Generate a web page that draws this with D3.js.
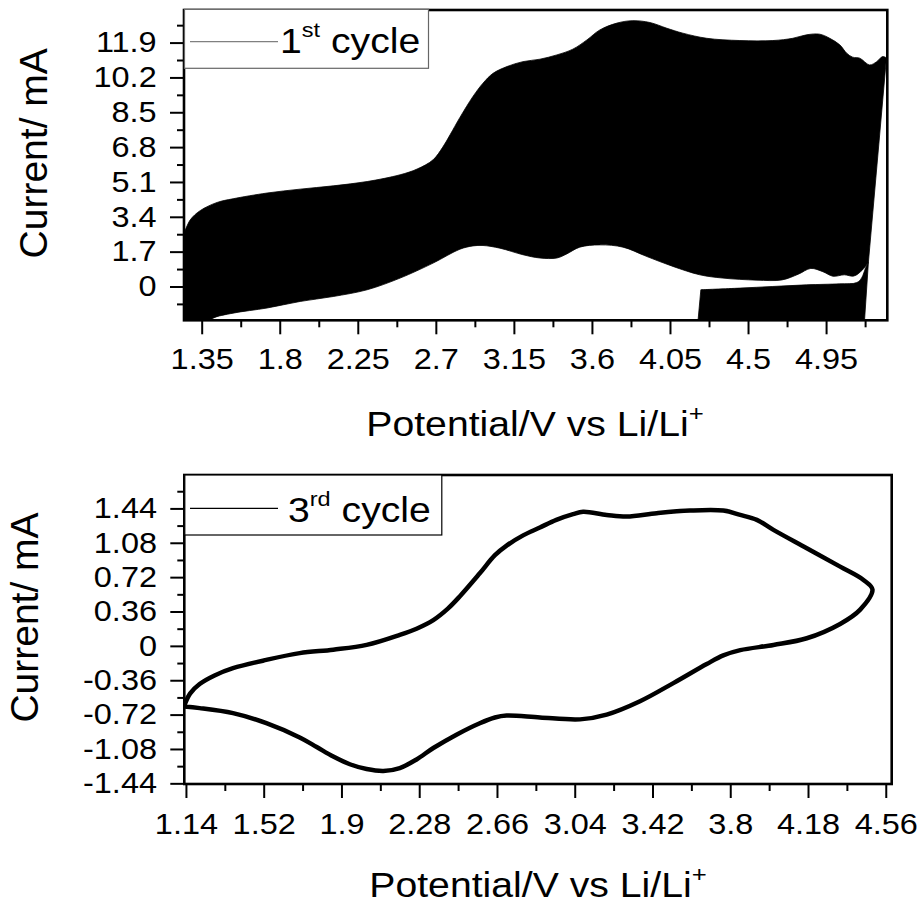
<!DOCTYPE html>
<html>
<head>
<meta charset="utf-8">
<script src="https://cdn.jsdelivr.net/npm/d3@7"></script>
<style>
  html, body { margin: 0; padding: 0; background: #fff; }
  svg { display: block; }
  text { font-family: "Liberation Sans", Arial, Helvetica, sans-serif; fill: #000; }
</style>
</head>
<body>
<svg id="chart" width="921" height="904"></svg>
<script>
// ---------- 1st cycle (V vs Li/Li+, current in mA) ----------
// forward sweep: outer edge of the dense current trace, left to right
const cycle1UpperV = [1.249, 1.249, 1.284, 1.341, 1.439, 1.531, 1.727, 1.918, 2.108, 2.304, 2.494, 2.592, 2.684, 2.740, 2.782, 2.839, 2.914, 2.972, 3.030, 3.110, 3.202, 3.300, 3.398, 3.490, 3.571, 3.646, 3.744, 3.836, 3.934, 4.032, 4.124, 4.262, 4.453, 4.643, 4.758, 4.838, 4.913, 4.971, 5.029, 5.069, 5.103, 5.144, 5.201, 5.242, 5.276, 5.300];
const cycle1UpperI = [-2.0, 2.60, 3.25, 3.70, 4.10, 4.28, 4.56, 4.75, 4.91, 5.12, 5.45, 5.73, 6.18, 6.80, 7.40, 8.25, 9.27, 9.92, 10.40, 10.73, 10.97, 11.09, 11.30, 11.58, 12.03, 12.52, 12.85, 12.97, 12.88, 12.60, 12.36, 12.11, 12.00, 12.00, 12.11, 12.28, 12.31, 12.11, 11.79, 11.38, 11.19, 11.14, 10.81, 10.97, 11.22, 11.14];
// forward sweep: inner edge, right to left (starts at the turn-around point)
const cycle1LowerV = [5.297, 5.194, 5.160, 5.110, 5.055, 4.990, 4.932, 4.862, 4.790, 4.695, 4.551, 4.355, 4.222, 4.067, 3.917, 3.779, 3.646, 3.530, 3.455, 3.398, 3.300, 3.202, 3.069, 2.972, 2.914, 2.839, 2.684, 2.494, 2.304, 2.108, 1.918, 1.727, 1.531, 1.418, 1.400, 1.249];
const cycle1LowerI = [11.05, 1.18, 0.81, 0.51, 0.57, 0.50, 0.72, 0.88, 0.60, 0.32, 0.31, 0.41, 0.57, 0.98, 1.46, 1.92, 2.03, 1.92, 1.59, 1.39, 1.39, 1.55, 1.87, 2.00, 1.98, 1.82, 1.14, 0.41, -0.16, -0.49, -0.73, -1.05, -1.30, -1.54, -1.70, -2.0];
// reverse sweep (after the turn-around), upper edge of the trace
const cycle1ReturnV = [4.208, 4.228, 4.453, 4.643, 4.838, 5.029, 5.127, 5.155, 5.178, 5.194, 5.169];
const cycle1ReturnI = [-2.0, -0.16, -0.08, 0.00, 0.08, 0.13, 0.19, 0.42, 0.91, 1.18, -2.0];

// ---------- 3rd cycle: closed loop, anodic branch then cathodic branch ----------
const cycle3V = [1.130, 1.160, 1.207, 1.280, 1.370, 1.533, 1.696, 1.860, 2.023, 2.185, 2.267, 2.349, 2.420, 2.479, 2.576, 2.650, 2.707, 2.790, 2.870, 2.950, 3.032, 3.081, 3.196, 3.294, 3.441, 3.603, 3.766, 3.849, 3.930, 4.011, 4.174, 4.337, 4.451, 4.495,
                 4.435, 4.337, 4.174, 4.011, 3.849, 3.766, 3.685, 3.522, 3.359, 3.196, 3.066, 2.870, 2.707, 2.650, 2.576, 2.462, 2.349, 2.267, 2.185, 2.105, 2.023, 1.941, 1.860, 1.779, 1.696, 1.533, 1.370, 1.207, 1.130];
const cycle3I = [-0.636, -0.500, -0.400, -0.310, -0.234, -0.147, -0.076, -0.040, 0.010, 0.115, 0.180, 0.270, 0.390, 0.520, 0.760, 0.950, 1.050, 1.160, 1.240, 1.320, 1.380, 1.405, 1.372, 1.354, 1.390, 1.417, 1.417, 1.372, 1.320, 1.215, 1.023, 0.830, 0.691, 0.590,
                 0.380, 0.230, 0.080, 0.010, -0.045, -0.100, -0.190, -0.390, -0.580, -0.720, -0.770, -0.750, -0.730, -0.750, -0.810, -0.930, -1.070, -1.190, -1.280, -1.310, -1.290, -1.240, -1.160, -1.060, -0.960, -0.810, -0.705, -0.652, -0.636];

// ---------- axes ----------
const topXTicks = [1.35, 1.8, 2.25, 2.7, 3.15, 3.6, 4.05, 4.5, 4.95];
const topXLabels = ["1.35", "1.8", "2.25", "2.7", "3.15", "3.6", "4.05", "4.5", "4.95"];
const topXMinor = [1.575, 2.025, 2.475, 2.925, 3.375, 3.825, 4.275, 4.725, 5.175];
const topYTicks = [0, 1.7, 3.4, 5.1, 6.8, 8.5, 10.2, 11.9];
const topYLabels = ["0", "1.7", "3.4", "5.1", "6.8", "8.5", "10.2", "11.9"];
const topYMinor = [-0.85, 0.85, 2.55, 4.25, 5.95, 7.65, 9.35, 11.05, 12.75];

const botXTicks = [1.14, 1.52, 1.9, 2.28, 2.66, 3.04, 3.42, 3.8, 4.18, 4.56];
const botXLabels = ["1.14", "1.52", "1.9", "2.28", "2.66", "3.04", "3.42", "3.8", "4.18", "4.56"];
const botXMinor = [1.33, 1.71, 2.09, 2.47, 2.85, 3.23, 3.61, 3.99, 4.37];
const botYTicks = [-1.44, -1.08, -0.72, -0.36, 0, 0.36, 0.72, 1.08, 1.44];
const botYLabels = ["-1.44", "-1.08", "-0.72", "-0.36", "0", "0.36", "0.72", "1.08", "1.44"];
const botYMinor = [-1.26, -0.9, -0.54, -0.18, 0.18, 0.54, 0.9, 1.26, 1.62];

const xTitle = "Potential/V vs Li/Li";
const yTitle = "Current/ mA";

const svg = d3.select("#chart");
const WIDE = 1.12;          // horizontal widening of the Arial-like lettering
const FRAME_W = 2.6;

function zip(xs, ys) { return xs.map((v, i) => [v, ys[i]]); }

function panel(p) {
  const x = d3.scaleLinear().domain(p.xDomain).range([p.left, p.right]);
  const y = d3.scaleLinear().domain(p.yDomain).range([p.bottom, p.top]);
  const g = svg.append("g");

  svg.append("clipPath").attr("id", p.id + "-clip")
    .append("rect")
    .attr("x", p.left).attr("y", p.top)
    .attr("width", p.right - p.left).attr("height", p.bottom - p.top);

  const plot = g.append("g").attr("clip-path", `url(#${p.id}-clip)`);
  p.draw(plot, x, y);

  const styleTicks = sel => {
    sel.select(".domain").remove();
    sel.selectAll(".tick line").attr("stroke", "#000").attr("stroke-width", 2);
  };

  // minor ticks
  g.append("g").attr("transform", `translate(0,${p.bottom})`)
    .call(d3.axisBottom(x).tickValues(p.xMinor).tickSize(7).tickFormat(""))
    .call(styleTicks);
  g.append("g").attr("transform", `translate(${p.left},0)`)
    .call(d3.axisLeft(y).tickValues(p.yMinor).tickSize(7).tickFormat(""))
    .call(styleTicks);

  // major ticks with labels
  g.append("g").attr("transform", `translate(0,${p.bottom})`)
    .call(d3.axisBottom(x).tickValues(p.xTicks).tickSize(14).tickPadding(p.xPad)
      .tickFormat((d, i) => p.xLabels[i]))
    .call(styleTicks)
    .call(s => s.selectAll("text")
      .attr("transform", `scale(${WIDE},1)`)
      .style("font-size", "29px").style("font-family", null));
  g.append("g").attr("transform", `translate(${p.left},0)`)
    .call(d3.axisLeft(y).tickValues(p.yTicks).tickSize(14).tickPadding(10.4)
      .tickFormat((d, i) => p.yLabels[i]))
    .call(styleTicks)
    .call(s => s.selectAll("text")
      .attr("transform", `scale(${WIDE},1)`)
      .style("font-size", "29px").style("font-family", null));

  // frame
  g.append("rect")
    .attr("x", p.left).attr("y", p.top)
    .attr("width", p.right - p.left).attr("height", p.bottom - p.top)
    .attr("fill", "none").attr("stroke", "#000").attr("stroke-width", FRAME_W);

  // legend
  const lg = g.append("g");
  lg.append("rect")
    .attr("x", p.left + 0.5).attr("y", p.legend.top)
    .attr("width", p.legend.width).attr("height", p.legend.height)
    .attr("fill", "#fff").attr("stroke", p.legend.border).attr("stroke-width", 1.2);
  lg.append("line")
    .attr("x1", 190).attr("x2", 278)
    .attr("y1", p.legend.lineY).attr("y2", p.legend.lineY)
    .attr("stroke", p.legend.lineColor).attr("stroke-width", 1.3);
  const lt = lg.append("text")
    .attr("transform", `translate(${p.legend.textX},${p.legend.baseline}) scale(${WIDE},1)`)
    .style("font-size", "35px");
  lt.append("tspan").text(p.legend.num);
  lt.append("tspan").attr("dy", -16).style("font-size", "21px").text(p.legend.sup);
  lt.append("tspan").attr("dy", 16).text(" cycle");

  // axis titles
  const xt = g.append("text")
    .attr("transform", `translate(${p.xTitle.cx},${p.xTitle.baseline}) scale(${WIDE},1)`)
    .attr("text-anchor", "middle")
    .style("font-size", "35px");
  xt.append("tspan").text(xTitle);
  xt.append("tspan").attr("dy", -15).style("font-size", "23px").text("+");

  g.append("text")
    .attr("transform", `translate(${p.yTitle.baseline},${p.yTitle.cy}) rotate(-90)`)
    .attr("text-anchor", "middle")
    .style("font-size", "39px")
    .text(yTitle);
}

// ---------- top panel: 1st cycle ----------
panel({
  id: "c1",
  left: 184, right: 887.3, top: 10, bottom: 320.3,
  xDomain: [1.248, 5.303], yDomain: [-1.65, 13.49],
  xTicks: topXTicks, xLabels: topXLabels, xMinor: topXMinor, xPad: 14,
  yTicks: topYTicks, yLabels: topYLabels, yMinor: topYMinor,
  legend: { top: 9.3, width: 244, height: 59, border: "#666", lineY: 41.7, lineColor: "#808080",
            textX: 280, baseline: 53.3, num: "1", sup: "st" },
  xTitle: { cx: 535, baseline: 436.3 },
  yTitle: { cy: 153.3, baseline: 46.7 },
  draw(plot, x, y) {
    const smooth = d3.line().x(d => x(d[0])).y(d => y(d[1])).curve(d3.curveCatmullRom.alpha(0.5));
    const upper = zip(cycle1UpperV, cycle1UpperI);
    const lower = zip(cycle1LowerV, cycle1LowerI);
    // outer edge (smooth), straight drop of the turn-around, inner edge (smooth)
    const d = smooth(upper.slice(1))
      + `L${x(lower[0][0])},${y(lower[0][1])}`
      + smooth(lower.slice(1)).replace(/^M/, "L")
      + `L${x(upper[0][0])},${y(upper[0][1])}Z`;
    plot.append("path")
      .attr("d", d)
      .attr("fill", "#000").attr("stroke", "#000").attr("stroke-width", 0.8);

    const ret = zip(cycle1ReturnV, cycle1ReturnI);
    const n = ret.length;
    const dr = `M${x(ret[0][0])},${y(ret[0][1])}`
      + smooth(ret.slice(1, n - 1)).replace(/^M/, "L")
      + `L${x(ret[n - 1][0])},${y(ret[n - 1][1])}Z`;
    plot.append("path")
      .attr("d", dr)
      .attr("fill", "#000").attr("stroke", "#000").attr("stroke-width", 0.8);
  }
});

// ---------- bottom panel: 3rd cycle ----------
panel({
  id: "c3",
  left: 184.3, right: 891.7, top: 475, bottom: 784,
  xDomain: [1.132, 4.589], yDomain: [-1.447, 1.79],
  xTicks: botXTicks, xLabels: botXLabels, xMinor: botXMinor, xPad: 15,
  yTicks: botYTicks, yLabels: botYLabels, yMinor: botYMinor,
  legend: { top: 475, width: 257, height: 60, border: "#000", lineY: 508.3, lineColor: "#000",
            textX: 288, baseline: 521.7, num: "3", sup: "rd" },
  xTitle: { cx: 538, baseline: 896.5 },
  yTitle: { cy: 617.5, baseline: 38.3 },
  draw(plot, x, y) {
    const line = d3.line().x(d => x(d[0])).y(d => y(d[1])).curve(d3.curveCatmullRom.alpha(0.5));
    plot.append("path")
      .attr("d", line(zip(cycle3V, cycle3I)))
      .attr("fill", "none").attr("stroke", "#000").attr("stroke-width", 4.5)
      .attr("stroke-linejoin", "round");
  }
});
</script>
</body>
</html>
